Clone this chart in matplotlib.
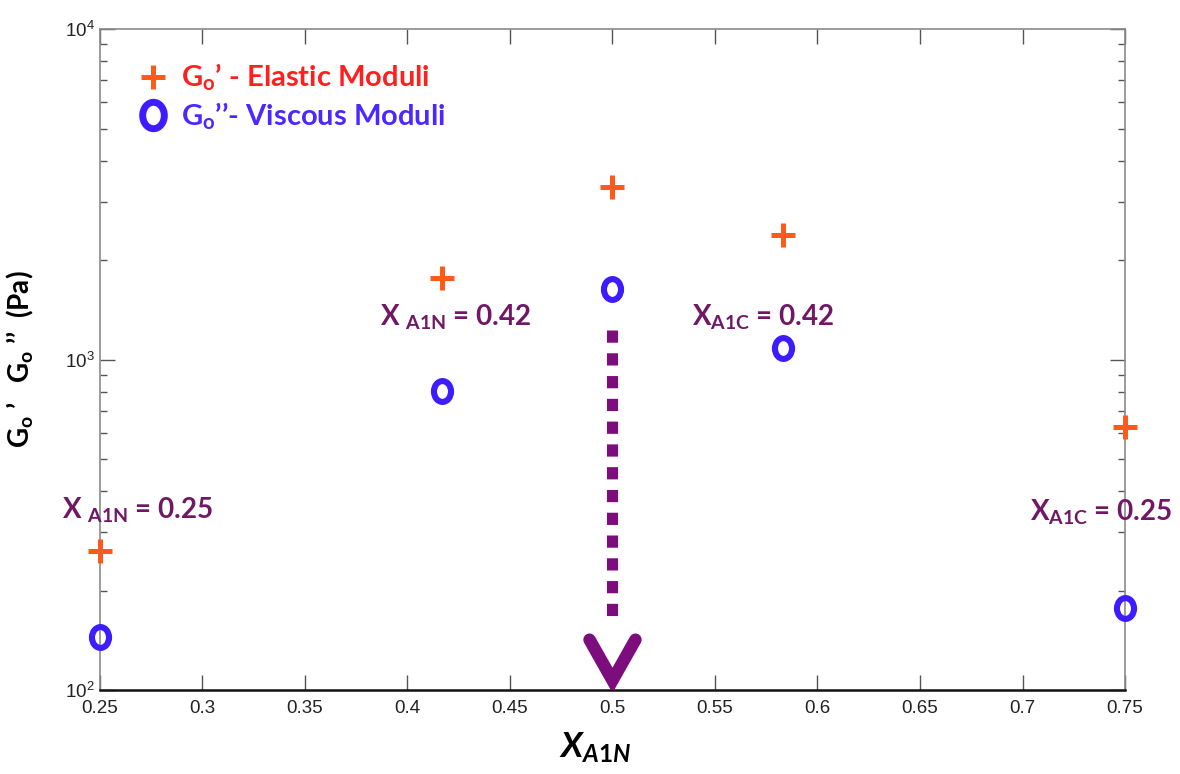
import numpy as np
import matplotlib.pyplot as plt
from matplotlib.path import Path
from matplotlib.lines import Line2D

# ---------------------------------------- data ----------------------------------------
x_a1n = [0.25, 0.4167, 0.5, 0.5833, 0.75]
g_elastic = [264, 1760, 3320, 2380, 627]   # Go'  (Pa)
g_viscous = [145, 805, 1630, 1087, 177]    # Go'' (Pa)

x_ticks = [0.25, 0.3, 0.35, 0.4, 0.45, 0.5, 0.55, 0.6, 0.65, 0.7, 0.75]
x_ticklabels = ['0.25', '0.3', '0.35', '0.4', '0.45', '0.5', '0.55', '0.6', '0.65', '0.7', '0.75']

# composition labels: (x, y, prefix, subscript, value)
comp_labels = [
    (0.2315, 350, 'X ', 'A1N', '0.25'),
    (0.3866, 1340, 'X ', 'A1N', '0.42'),
    (0.5388, 1340, 'X', 'A1C', '0.42'),
    (0.7037, 345, 'X', 'A1C', '0.25'),
]

# dotted arrow marking the equimolar blend
arrow_x = 0.5
arrow_top = 1230
arrow_bottom = 158
arrow_tip = 107
arrow_half_width = 0.0112
arrow_head_top = 142

ORANGE = '#ff5a1a'
BLUE = '#3d1cff'
PURPLE = '#701866'
ARROW = '#7d0c7d'

plt.rcParams['mathtext.fontset'] = 'custom'
plt.rcParams['mathtext.rm'] = 'Lato:bold'
plt.rcParams['mathtext.it'] = 'Lato:bold:italic'
plt.rcParams['mathtext.bf'] = 'Lato:bold'

# slightly tall ellipse for the viscous markers
circ = Path.unit_circle()
ellipse = Path(circ.vertices * np.array([0.82, 1.0]), circ.codes)

fig = plt.figure(figsize=(11.8, 7.74), dpi=100)
ax = fig.add_axes([0.0847, 0.1085, 0.8687, 0.854])

ax.set_yscale('log')
ax.set_xlim(0.25, 0.75)
ax.set_ylim(100, 10000)

ax.plot(x_a1n, g_elastic, linestyle='none', marker='+', markersize=17,
        markeredgewidth=3.6, color=ORANGE, clip_on=False, zorder=5)
ax.plot(x_a1n, g_viscous, linestyle='none', marker=ellipse, markersize=15,
        markeredgewidth=4.4, markerfacecolor='none', markeredgecolor=BLUE,
        clip_on=False, zorder=5)

# arrow: dotted shaft + V head
ax.plot([arrow_x, arrow_x], [arrow_top, arrow_bottom], color=ARROW, lw=8,
        linestyle=(0, (1.1, 0.95)), solid_capstyle='butt', dash_capstyle='butt', zorder=4)
ax.plot([arrow_x - arrow_half_width, arrow_x, arrow_x + arrow_half_width],
        [arrow_head_top, arrow_tip, arrow_head_top], color=ARROW, lw=9,
        solid_capstyle='round', solid_joinstyle='miter', zorder=4)

for x, y, pre, sub, val in comp_labels:
    ax.text(x, y, pre + r'$_{\mathregular{' + sub + '}}$ = ' + val,
            fontsize=20, family='Lato', fontweight='bold', color=PURPLE,
            ha='left', va='center', clip_on=False)

# legend
handles = [
    Line2D([], [], linestyle='none', marker='+', markersize=17, markeredgewidth=3.6, color=ORANGE),
    Line2D([], [], linestyle='none', marker=ellipse, markersize=19, markeredgewidth=5,
           markerfacecolor='none', markeredgecolor=BLUE),
]
labels = [r'G$_{\mathregular{o}}$’ - Elastic Moduli', r'G$_{\mathregular{o}}$’’- Viscous Moduli']
leg = ax.legend(handles, labels, loc='upper left', bbox_to_anchor=(0.012, 0.99), frameon=False,
                prop={'family': 'Lato', 'weight': 'bold', 'size': 21},
                handletextpad=0.45, labelspacing=0.25, handlelength=1.0)
for t, c in zip(leg.get_texts(), ['#ff1f1f', '#4a28ff']):
    t.set_color(c)

# axes styling
ax.set_xticks(x_ticks)
ax.set_xticklabels(x_ticklabels)
ax.tick_params(which='both', direction='in', top=True, right=True, colors='#555555',
               labelcolor='#222222', labelsize=13.5)
ax.tick_params(which='major', length=11, width=1)
ax.tick_params(which='minor', length=5, width=1)
ax.tick_params(axis='x', pad=7)
for side in ['left', 'top', 'right']:
    ax.spines[side].set_color('#8a8a8a')
    ax.spines[side].set_linewidth(1.2)
ax.spines['bottom'].set_color('#111111')
ax.spines['bottom'].set_linewidth(1.8)
for lbl in ax.get_xticklabels() + ax.get_yticklabels():
    lbl.set_family('Liberation Sans')

ax.set_ylabel(r'G$_{\mathregular{o}}$ ’   G$_{\mathregular{o}}$ ’’  (Pa)', family='Lato',
              fontweight='bold', fontsize=20)
ax.yaxis.set_label_coords(-0.062, 0.5)
ax.set_xlabel(r'$X_{A1N}$', fontsize=25)
ax.xaxis.set_label_coords(0.483, -0.062)

fig.savefig('out.png', dpi=100)
